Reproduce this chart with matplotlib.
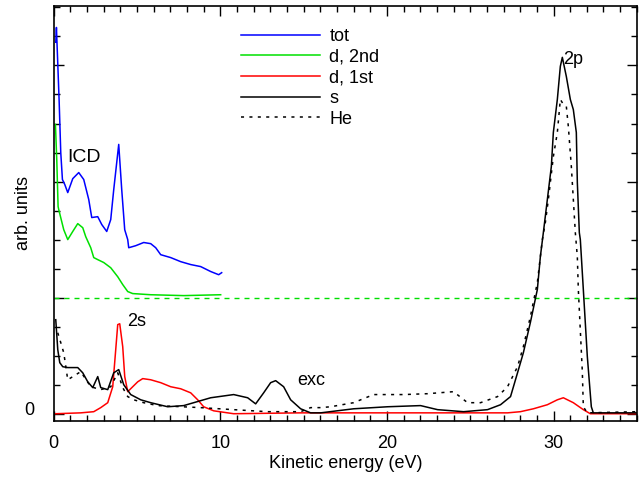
import matplotlib
matplotlib.use("Agg")
import matplotlib.pyplot as plt
import matplotlib.transforms as mtransforms
from matplotlib.ticker import MultipleLocator

plt.rcParams['font.family'] = ['Liberation Sans', 'DejaVu Sans']

# values (eV, arb. units; offset curves sit on y=4)
tot_x = [0.12, 0.16, 0.32, 0.42, 0.52, 0.66, 0.84, 1.14, 1.50, 1.80, 2.10, 2.28,
         2.64, 2.88, 3.18, 3.42, 3.60, 3.90, 4.08, 4.26, 4.44, 4.50, 4.92, 5.40,
         5.82, 6.12, 6.42, 7.02, 7.62, 8.22, 8.82, 9.42, 9.90, 10.08]
tot_y = [12.8, 13.31, 10.83, 9.0, 8.07, 7.9, 7.62, 8.1, 8.31, 8.07, 7.38, 6.76,
         6.79, 6.52, 6.28, 6.69, 7.72, 9.28, 7.72, 6.34, 6.00, 5.72, 5.79, 5.90,
         5.86, 5.72, 5.48, 5.38, 5.24, 5.14, 5.07, 4.90, 4.79, 4.86]

d2_x = [0.10, 0.18, 0.26, 0.30, 0.60, 0.84, 1.14, 1.44, 1.74, 1.92, 2.22, 2.40,
        2.64, 3.00, 3.42, 3.84, 4.14, 4.44, 4.74, 5.82, 7.80, 10.02]
d2_y = [9.97, 8.76, 7.14, 7.03, 6.34, 6.00, 6.28, 6.55, 6.41, 6.10, 5.72, 5.38,
        5.31, 5.21, 5.03, 4.72, 4.45, 4.21, 4.14, 4.10, 4.07, 4.10]

d1_x = [0.12, 1.62, 2.40, 2.82, 3.24, 3.54, 3.72, 3.84, 3.96, 4.14, 4.26, 4.44,
        4.74, 5.04, 5.34, 5.82, 6.42, 7.02, 7.62, 8.22, 8.64, 9.00, 9.60, 10.80,
        14.82, 20.0, 27.24, 28.01, 28.79, 29.63, 30.23, 30.59, 31.19, 31.79,
        32.21, 35.0]
d1_y = [0.00, 0.03, 0.07, 0.21, 0.38, 0.93, 2.21, 3.07, 3.10, 2.31, 1.28, 0.76,
        0.93, 1.10, 1.21, 1.17, 1.07, 0.93, 0.86, 0.72, 0.48, 0.24, 0.10, 0.00,
        0.03, 0.03, 0.03, 0.07, 0.17, 0.31, 0.48, 0.55, 0.38, 0.14,
        0.00, 0.00]

s_x = [0.12, 0.24, 0.36, 0.54, 0.84, 1.44, 1.74, 2.04, 2.34, 2.64, 2.82, 3.24,
       3.60, 3.90, 4.20, 4.62, 5.22, 5.82, 6.84, 7.80, 8.82, 9.42, 10.80, 11.64,
       12.12, 12.60, 13.02, 13.32, 13.80, 14.22, 14.82, 15.42, 16.02, 18.00,
       20.04, 22.02, 23.04, 24.60, 26.04, 26.82, 27.42, 27.84, 28.19, 28.61,
       29.03, 29.21, 29.39, 29.63, 29.87, 29.99, 30.23, 30.41, 30.53, 30.77,
       31.01, 31.19, 31.37, 31.43, 31.55, 31.61, 31.79, 32.03, 32.27, 32.39, 35.0]
s_y = [3.24, 2.21, 1.76, 1.62, 1.59, 1.59, 1.41, 1.10, 0.90, 1.28, 0.90, 0.83,
       1.41, 1.52, 1.00, 0.66, 0.48, 0.38, 0.24, 0.28, 0.45, 0.55, 0.66, 0.55,
       0.34, 0.72, 1.07, 1.14, 0.93, 0.48, 0.17, 0.03, 0.03, 0.17,
       0.24, 0.28, 0.14, 0.07, 0.14, 0.31, 0.59, 1.41, 2.10, 3.14,
       4.28, 5.41, 6.24, 7.38, 8.52, 9.69, 10.83, 11.97, 12.28, 11.62,
       10.83, 10.48, 9.69, 7.97, 6.24, 6.00, 4.28, 1.97, 0.24, 0.03, 0.03]

he_x = [0.24, 0.42, 0.60, 0.84, 1.62, 2.22, 2.82, 3.42, 3.84, 4.14, 4.44, 4.80,
        5.40, 6.24, 8.82, 10.80, 12.84, 14.82, 15.42, 16.02, 16.62, 18.00, 19.20,
        21.00, 22.44, 24.00, 24.84, 25.62, 26.64, 27.24, 27.84, 28.19, 28.61,
        29.03, 29.33, 29.51, 29.69, 29.99, 30.23, 30.41, 30.59, 30.77, 30.89,
        31.07, 31.19, 31.31, 31.43, 31.49, 31.73, 31.79, 32.03, 35.0]
he_y = [2.79, 2.45, 2.10, 1.17, 1.45, 0.93, 0.83, 0.93, 1.41, 0.90, 0.59, 0.48,
        0.38, 0.28, 0.21, 0.14, 0.07, 0.07, 0.21, 0.21, 0.24, 0.38, 0.66,
        0.66, 0.69, 0.76, 0.38, 0.38, 0.59, 0.93, 1.62, 2.31, 3.34,
        4.52, 6.00, 6.59, 7.38, 8.86, 9.69, 10.83, 10.66, 10.59, 9.90,
        8.52, 7.38, 6.24, 5.41, 4.28, 1.45, 0.24, 0.03, 0.07]

offset = 4.0

fig = plt.figure(figsize=(6.4, 4.82), dpi=100)
ax = fig.add_axes([0.084, 0.1266, 0.911, 0.861])

ax.axhline(offset, color='#00e000', lw=1.0, ls=(0, (3.6, 3.6)))
ax.plot(tot_x, tot_y, color='#0000ff', lw=1.1, label='tot')
ax.plot(d2_x, d2_y, color='#00e000', lw=1.1, label='d, 2nd')
ax.plot(d1_x, d1_y, color='#ff0000', lw=1.1, label='d, 1st')
ax.plot(s_x, s_y, color='black', lw=1.1, label='s')
ax.plot(he_x, he_y, color='black', lw=1.1, ls=(0, (2, 3.5)), label='He')

ax.set_xlim(0, 35)
ax.set_ylim(-0.25, 14.05)

ax.xaxis.set_major_locator(MultipleLocator(10))
ax.xaxis.set_minor_locator(MultipleLocator(1))
ax.yaxis.set_minor_locator(MultipleLocator(1))
ax.set_yticks([0, 4, 8, 12])
ax.set_yticklabels(['0', '', '', ''])
ax.tick_params(which='both', direction='in', top=True, right=True,
               labelsize=13, width=1.0)
ax.tick_params(axis='x', pad=10)
ax.tick_params(axis='y', pad=14)
ax.tick_params(which='major', length=7)
ax.tick_params(which='minor', length=4)
for sp in ax.spines.values():
    sp.set_linewidth(1.2)

# the "0" label sits a little above the zero line in the original
shift = mtransforms.ScaledTranslation(0, 0.05, fig.dpi_scale_trans)
for lbl in ax.get_yticklabels():
    lbl.set_transform(lbl.get_transform() + shift)

ax.set_xlabel('Kinetic energy (eV)', fontsize=13, labelpad=2)
ax.set_ylabel('arb. units', fontsize=13)
ax.yaxis.set_label_coords(-0.038, 0.5)

ax.text(0.8, 8.83, 'ICD', fontsize=14, va='center', ha='left')
ax.text(4.4, 3.17, '2s', fontsize=13, va='center', ha='left')
ax.text(14.6, 1.14, 'exc', fontsize=13, va='center', ha='left')
ax.text(30.6, 12.2, '2p', fontsize=13, va='center', ha='left')

ax.legend(loc='upper left', bbox_to_anchor=(0.321, 0.9465), frameon=False,
          fontsize=13, handlelength=4.4, handletextpad=0.5, labelspacing=0.2,
          borderaxespad=0, borderpad=0)

fig.savefig('out.png', dpi=100)
